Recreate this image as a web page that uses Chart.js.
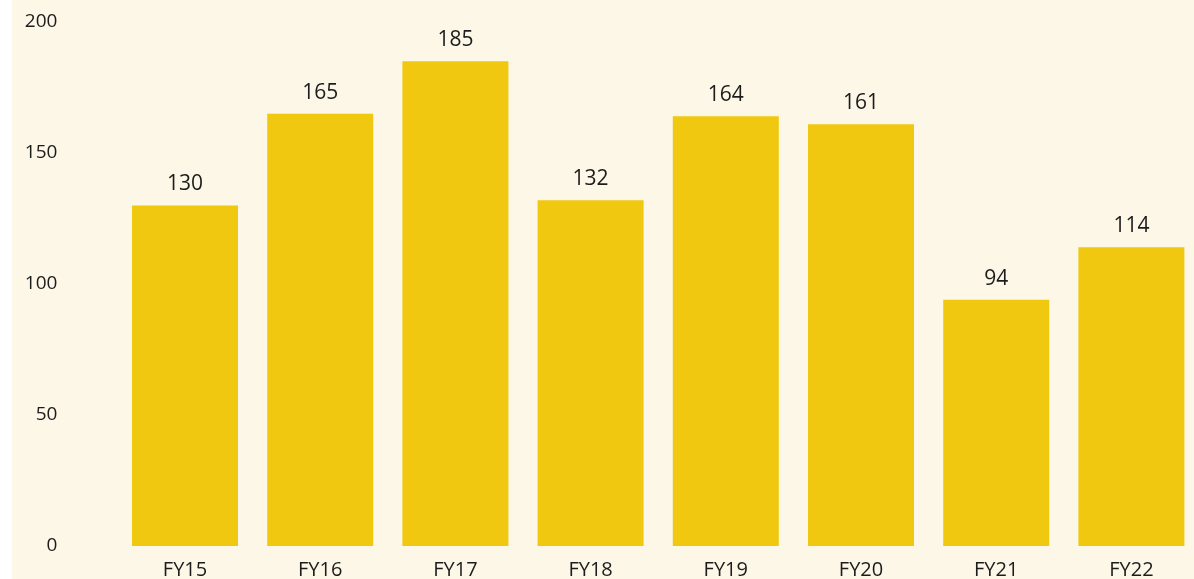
<!DOCTYPE html>
<html>
<head>
<meta charset="utf-8">
<script src="https://cdn.jsdelivr.net/npm/chart.js@4.4.1/dist/chart.umd.min.js"></script>
<style>
  html, body { margin: 0; padding: 0; background: #ffffff; overflow: hidden; }
  #wrap { position: absolute; left: 12px; top: 0; width: 1182px; height: 579px; background: #fdf7e7; overflow: hidden; }
  #box { position: absolute; left: 0; top: 0; width: 1187px; height: 579px; }
</style>
</head>
<body>
<div id="wrap"><div id="box"><canvas id="c"></canvas></div></div>
<script>
const categories = ["FY15", "FY16", "FY17", "FY18", "FY19", "FY20", "FY21", "FY22"];
const values = [130, 165, 185, 132, 164, 161, 94, 114];
const yTicks = [0, 50, 100, 150, 200];

const FONT = "'Segoe UI', 'Open Sans', 'Noto Sans', sans-serif";
const TEXT = "#1c1c1c";

const valueLabels = {
  id: 'valueLabels',
  afterDatasetsDraw(chart) {
    const ctx = chart.ctx;
    const meta = chart.getDatasetMeta(0);
    ctx.save();
    ctx.font = "21px " + FONT;
    ctx.fillStyle = TEXT;
    ctx.textAlign = 'center';
    ctx.textBaseline = 'alphabetic';
    meta.data.forEach((bar, i) => {
      ctx.fillText(String(chart.data.datasets[0].data[i]), bar.x, bar.y - 15);
    });
    ctx.restore();
  }
};

new Chart(document.getElementById('c'), {
  type: 'bar',
  data: {
    labels: categories,
    datasets: [{
      data: values,
      backgroundColor: '#f0c80f',
      borderWidth: 0,
      categoryPercentage: 1,
      barPercentage: 0.784
    }]
  },
  options: {
    responsive: true,
    maintainAspectRatio: false,
    animation: false,
    layout: { padding: { top: 22, left: 0, right: 0, bottom: 0 } },
    plugins: { legend: { display: false }, tooltip: { enabled: false } },
    scales: {
      x: {
        grid: { display: false, drawTicks: false },
        border: { display: false },
        ticks: { color: TEXT, font: { family: FONT, size: 20 }, padding: 12, maxRotation: 0 },
        afterFit(axis) { axis.height = 33; }
      },
      y: {
        min: 0, max: 200,
        afterBuildTicks(axis) { axis.ticks = yTicks.map(v => ({ value: v })); },
        grid: { display: false, drawTicks: false },
        border: { display: false },
        ticks: { color: TEXT, font: { family: FONT, size: 19 }, padding: 60 },
        afterFit(axis) { axis.width = 105.4; axis.paddingTop = 0; axis.paddingBottom = 0; }
      }
    }
  },
  plugins: [valueLabels]
});
</script>
</body>
</html>
